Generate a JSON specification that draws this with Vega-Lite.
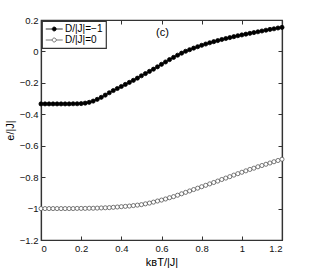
{
  "$schema": "https://vega.github.io/schema/vega-lite/v6.json",
  "width": 241,
  "height": 220,
  "autosize": "none",
  "padding": {"left": 41, "top": 20, "right": 29, "bottom": 31},
  "background": "white",
  "config": {
    "font": "Liberation Sans",
    "view": {"stroke": "#333", "strokeWidth": 1.2},
    "axis": {
      "grid": false,
      "domain": true,
      "domainColor": "#333",
      "domainWidth": 1.2,
      "tickColor": "#333",
      "tickWidth": 1,
      "tickSize": -4,
      "labelColor": "#111",
      "labelFontSize": 9.5,
      "labelPadding": 7,
      "titleFontWeight": "normal",
      "titleFontSize": 11,
      "titleColor": "#000",
      "format": "~g"
    },
    "legend": {
      "orient": "top-left",
      "offset": 1,
      "padding": 3,
      "strokeColor": "#333",
      "strokeWidth": 1.2,
      "fillColor": "white",
      "labelFontSize": 10,
      "labelColor": "#000",
      "rowPadding": 1,
      "labelOffset": 10,
      "symbolType": "M-1,0L0.53,0M1.47,0L3,0M1.47,0A0.47,0.47,0,1,1,0.53,0A0.47,0.47,0,1,1,1.47,0Z",
      "symbolSize": 72,
      "symbolStrokeWidth": 0.8
    }
  },
  "datasets": {
    "curves": [
      {"T": 0.00, "e": -0.334, "series": "D/|J|=−1"},
      {"T": 0.02, "e": -0.334, "series": "D/|J|=−1"},
      {"T": 0.04, "e": -0.334, "series": "D/|J|=−1"},
      {"T": 0.06, "e": -0.334, "series": "D/|J|=−1"},
      {"T": 0.08, "e": -0.334, "series": "D/|J|=−1"},
      {"T": 0.10, "e": -0.334, "series": "D/|J|=−1"},
      {"T": 0.12, "e": -0.334, "series": "D/|J|=−1"},
      {"T": 0.14, "e": -0.334, "series": "D/|J|=−1"},
      {"T": 0.16, "e": -0.333, "series": "D/|J|=−1"},
      {"T": 0.18, "e": -0.333, "series": "D/|J|=−1"},
      {"T": 0.20, "e": -0.332, "series": "D/|J|=−1"},
      {"T": 0.22, "e": -0.329, "series": "D/|J|=−1"},
      {"T": 0.24, "e": -0.324, "series": "D/|J|=−1"},
      {"T": 0.26, "e": -0.316, "series": "D/|J|=−1"},
      {"T": 0.28, "e": -0.305, "series": "D/|J|=−1"},
      {"T": 0.30, "e": -0.292, "series": "D/|J|=−1"},
      {"T": 0.32, "e": -0.278, "series": "D/|J|=−1"},
      {"T": 0.34, "e": -0.263, "series": "D/|J|=−1"},
      {"T": 0.36, "e": -0.249, "series": "D/|J|=−1"},
      {"T": 0.38, "e": -0.236, "series": "D/|J|=−1"},
      {"T": 0.40, "e": -0.223, "series": "D/|J|=−1"},
      {"T": 0.42, "e": -0.210, "series": "D/|J|=−1"},
      {"T": 0.44, "e": -0.197, "series": "D/|J|=−1"},
      {"T": 0.46, "e": -0.184, "series": "D/|J|=−1"},
      {"T": 0.48, "e": -0.170, "series": "D/|J|=−1"},
      {"T": 0.50, "e": -0.155, "series": "D/|J|=−1"},
      {"T": 0.52, "e": -0.141, "series": "D/|J|=−1"},
      {"T": 0.54, "e": -0.127, "series": "D/|J|=−1"},
      {"T": 0.56, "e": -0.113, "series": "D/|J|=−1"},
      {"T": 0.58, "e": -0.098, "series": "D/|J|=−1"},
      {"T": 0.60, "e": -0.082, "series": "D/|J|=−1"},
      {"T": 0.62, "e": -0.067, "series": "D/|J|=−1"},
      {"T": 0.64, "e": -0.052, "series": "D/|J|=−1"},
      {"T": 0.66, "e": -0.038, "series": "D/|J|=−1"},
      {"T": 0.68, "e": -0.024, "series": "D/|J|=−1"},
      {"T": 0.70, "e": -0.011, "series": "D/|J|=−1"},
      {"T": 0.72, "e": 0.001, "series": "D/|J|=−1"},
      {"T": 0.74, "e": 0.011, "series": "D/|J|=−1"},
      {"T": 0.76, "e": 0.021, "series": "D/|J|=−1"},
      {"T": 0.78, "e": 0.030, "series": "D/|J|=−1"},
      {"T": 0.80, "e": 0.039, "series": "D/|J|=−1"},
      {"T": 0.82, "e": 0.047, "series": "D/|J|=−1"},
      {"T": 0.84, "e": 0.055, "series": "D/|J|=−1"},
      {"T": 0.86, "e": 0.062, "series": "D/|J|=−1"},
      {"T": 0.88, "e": 0.069, "series": "D/|J|=−1"},
      {"T": 0.90, "e": 0.076, "series": "D/|J|=−1"},
      {"T": 0.92, "e": 0.082, "series": "D/|J|=−1"},
      {"T": 0.94, "e": 0.088, "series": "D/|J|=−1"},
      {"T": 0.96, "e": 0.094, "series": "D/|J|=−1"},
      {"T": 0.98, "e": 0.100, "series": "D/|J|=−1"},
      {"T": 1.00, "e": 0.105, "series": "D/|J|=−1"},
      {"T": 1.02, "e": 0.110, "series": "D/|J|=−1"},
      {"T": 1.04, "e": 0.115, "series": "D/|J|=−1"},
      {"T": 1.06, "e": 0.120, "series": "D/|J|=−1"},
      {"T": 1.08, "e": 0.125, "series": "D/|J|=−1"},
      {"T": 1.10, "e": 0.130, "series": "D/|J|=−1"},
      {"T": 1.12, "e": 0.135, "series": "D/|J|=−1"},
      {"T": 1.14, "e": 0.140, "series": "D/|J|=−1"},
      {"T": 1.16, "e": 0.144, "series": "D/|J|=−1"},
      {"T": 1.18, "e": 0.149, "series": "D/|J|=−1"},
      {"T": 1.20, "e": 0.153, "series": "D/|J|=−1"},
      {"T": 0.00, "e": -1.000, "series": "D/|J|=0"},
      {"T": 0.02, "e": -1.000, "series": "D/|J|=0"},
      {"T": 0.04, "e": -1.000, "series": "D/|J|=0"},
      {"T": 0.06, "e": -1.000, "series": "D/|J|=0"},
      {"T": 0.08, "e": -1.000, "series": "D/|J|=0"},
      {"T": 0.10, "e": -1.000, "series": "D/|J|=0"},
      {"T": 0.12, "e": -1.000, "series": "D/|J|=0"},
      {"T": 0.14, "e": -1.000, "series": "D/|J|=0"},
      {"T": 0.16, "e": -1.000, "series": "D/|J|=0"},
      {"T": 0.18, "e": -0.999, "series": "D/|J|=0"},
      {"T": 0.20, "e": -0.999, "series": "D/|J|=0"},
      {"T": 0.22, "e": -0.999, "series": "D/|J|=0"},
      {"T": 0.24, "e": -0.998, "series": "D/|J|=0"},
      {"T": 0.26, "e": -0.998, "series": "D/|J|=0"},
      {"T": 0.28, "e": -0.997, "series": "D/|J|=0"},
      {"T": 0.30, "e": -0.996, "series": "D/|J|=0"},
      {"T": 0.32, "e": -0.995, "series": "D/|J|=0"},
      {"T": 0.34, "e": -0.994, "series": "D/|J|=0"},
      {"T": 0.36, "e": -0.992, "series": "D/|J|=0"},
      {"T": 0.38, "e": -0.990, "series": "D/|J|=0"},
      {"T": 0.40, "e": -0.988, "series": "D/|J|=0"},
      {"T": 0.42, "e": -0.986, "series": "D/|J|=0"},
      {"T": 0.44, "e": -0.984, "series": "D/|J|=0"},
      {"T": 0.46, "e": -0.981, "series": "D/|J|=0"},
      {"T": 0.48, "e": -0.978, "series": "D/|J|=0"},
      {"T": 0.50, "e": -0.975, "series": "D/|J|=0"},
      {"T": 0.52, "e": -0.970, "series": "D/|J|=0"},
      {"T": 0.54, "e": -0.965, "series": "D/|J|=0"},
      {"T": 0.56, "e": -0.959, "series": "D/|J|=0"},
      {"T": 0.58, "e": -0.952, "series": "D/|J|=0"},
      {"T": 0.60, "e": -0.946, "series": "D/|J|=0"},
      {"T": 0.62, "e": -0.939, "series": "D/|J|=0"},
      {"T": 0.64, "e": -0.931, "series": "D/|J|=0"},
      {"T": 0.66, "e": -0.924, "series": "D/|J|=0"},
      {"T": 0.68, "e": -0.915, "series": "D/|J|=0"},
      {"T": 0.70, "e": -0.906, "series": "D/|J|=0"},
      {"T": 0.72, "e": -0.897, "series": "D/|J|=0"},
      {"T": 0.74, "e": -0.888, "series": "D/|J|=0"},
      {"T": 0.76, "e": -0.879, "series": "D/|J|=0"},
      {"T": 0.78, "e": -0.870, "series": "D/|J|=0"},
      {"T": 0.80, "e": -0.861, "series": "D/|J|=0"},
      {"T": 0.82, "e": -0.852, "series": "D/|J|=0"},
      {"T": 0.84, "e": -0.843, "series": "D/|J|=0"},
      {"T": 0.86, "e": -0.834, "series": "D/|J|=0"},
      {"T": 0.88, "e": -0.825, "series": "D/|J|=0"},
      {"T": 0.90, "e": -0.815, "series": "D/|J|=0"},
      {"T": 0.92, "e": -0.806, "series": "D/|J|=0"},
      {"T": 0.94, "e": -0.797, "series": "D/|J|=0"},
      {"T": 0.96, "e": -0.787, "series": "D/|J|=0"},
      {"T": 0.98, "e": -0.778, "series": "D/|J|=0"},
      {"T": 1.00, "e": -0.769, "series": "D/|J|=0"},
      {"T": 1.02, "e": -0.760, "series": "D/|J|=0"},
      {"T": 1.04, "e": -0.751, "series": "D/|J|=0"},
      {"T": 1.06, "e": -0.743, "series": "D/|J|=0"},
      {"T": 1.08, "e": -0.734, "series": "D/|J|=0"},
      {"T": 1.10, "e": -0.726, "series": "D/|J|=0"},
      {"T": 1.12, "e": -0.718, "series": "D/|J|=0"},
      {"T": 1.14, "e": -0.710, "series": "D/|J|=0"},
      {"T": 1.16, "e": -0.702, "series": "D/|J|=0"},
      {"T": 1.18, "e": -0.694, "series": "D/|J|=0"},
      {"T": 1.20, "e": -0.686, "series": "D/|J|=0"}
    ],
    "note": [{"T": 0.605, "e": 0.117, "label": "(c)"}]
  },
  "layer": [
    {
      "data": {"name": "curves"},
      "mark": {"type": "line", "strokeWidth": 1},
      "encoding": {
        "x": {"field": "T", "type": "quantitative", "scale": {"domain": [0, 1.2], "nice": false}, "axis": {"orient": "top", "labels": false, "title": null, "values": [0, 0.2, 0.4, 0.6, 0.8, 1, 1.2]}},
        "y": {"field": "e", "type": "quantitative", "scale": {"domain": [-1.2, 0.2], "nice": false}, "axis": {"orient": "right", "labels": false, "title": null, "values": [-1.2, -1, -0.8, -0.6, -0.4, -0.2, 0, 0.2]}},
        "stroke": {"field": "series", "type": "nominal", "scale": {"domain": ["D/|J|=−1", "D/|J|=0"], "range": ["#000000", "#555555"]}},
        "detail": {"field": "series"}
      }
    },
    {
      "data": {"name": "curves"},
      "mark": {"type": "point", "shape": "circle", "size": 17, "strokeWidth": 0.8, "opacity": 1},
      "encoding": {
        "x": {"field": "T", "type": "quantitative", "axis": {"orient": "bottom", "title": "kʙT/|J|", "titlePadding": 4, "values": [0, 0.2, 0.4, 0.6, 0.8, 1, 1.2]}},
        "y": {"field": "e", "type": "quantitative", "axis": {"orient": "left", "title": "e/|J|", "titlePadding": 4, "values": [-1.2, -1, -0.8, -0.6, -0.4, -0.2, 0, 0.2]}},
        "fill": {"field": "series", "type": "nominal", "scale": {"domain": ["D/|J|=−1", "D/|J|=0"], "range": ["#000000", "#ffffff"]}, "legend": {"title": null}},
        "stroke": {"field": "series", "type": "nominal", "legend": {"title": null}}
      }
    },
    {
      "data": {"name": "note"},
      "mark": {"type": "text", "fontSize": 11, "color": "#000"},
      "encoding": {
        "x": {"field": "T", "type": "quantitative", "axis": null},
        "y": {"field": "e", "type": "quantitative", "axis": null},
        "text": {"field": "label"}
      }
    }
  ],
  "resolve": {"axis": {"x": "independent", "y": "independent"}}
}
